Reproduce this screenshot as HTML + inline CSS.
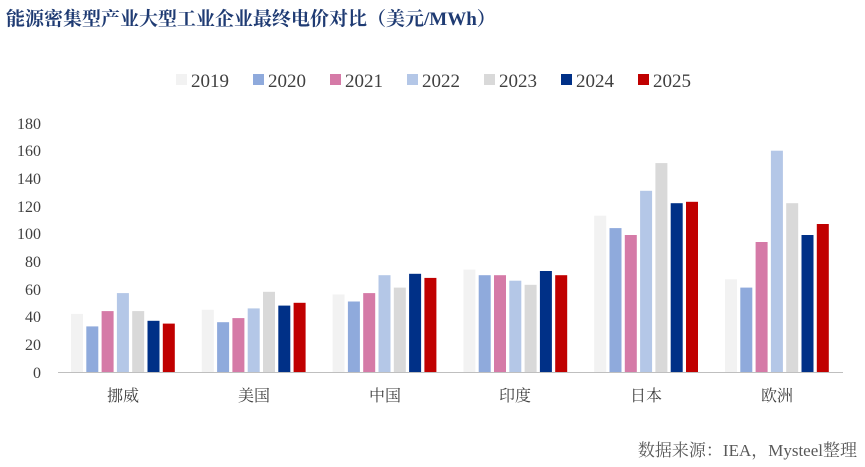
<!DOCTYPE html>
<html><head><meta charset="utf-8"><style>
html,body{margin:0;padding:0;background:#fff;}
svg{display:block;}
.a{fill:#f2f2f2}.b{fill:#8faadc}.c{fill:#d57aa7}.d{fill:#b4c7e7}.e{fill:#d9d9d9}.f{fill:#003087}.g{fill:#c00000}
</style></head><body>
<svg width="865" height="467" xmlns="http://www.w3.org/2000/svg">
<text x="6" y="25" font-family="Liberation Serif, Noto Serif CJK SC, serif" font-size="19" font-weight="bold" fill="#1f3b73">能源密集型产业大型工业企业最终电价对比（美元/MWh）</text>
<g font-family="Liberation Serif, serif" font-size="19" fill="#404040">
<rect x="176" y="74" width="11" height="11" fill="#f2f2f2"/><text x="191" y="87">2019</text>
<rect x="253" y="74" width="11" height="11" fill="#8faadc"/><text x="268" y="87">2020</text>
<rect x="330" y="74" width="11" height="11" fill="#d57aa7"/><text x="345" y="87">2021</text>
<rect x="407" y="74" width="11" height="11" fill="#b4c7e7"/><text x="422" y="87">2022</text>
<rect x="484" y="74" width="11" height="11" fill="#d9d9d9"/><text x="499" y="87">2023</text>
<rect x="561" y="74" width="11" height="11" fill="#003087"/><text x="576" y="87">2024</text>
<rect x="638" y="74" width="11" height="11" fill="#c00000"/><text x="653" y="87">2025</text>
</g>
<g font-family="Liberation Serif, serif" font-size="16" fill="#404040" text-anchor="end">
<text x="41" y="378">0</text><text x="41" y="350">20</text><text x="41" y="322">40</text><text x="41" y="295">60</text><text x="41" y="267">80</text><text x="41" y="239">100</text><text x="41" y="212">120</text><text x="41" y="184">140</text><text x="41" y="156">160</text><text x="41" y="129">180</text>
</g>
<g>
<rect class="a" x="71" y="313.9" width="12" height="58.1"/>
<rect class="b" x="86.3" y="326.4" width="12" height="45.6"/>
<rect class="c" x="101.6" y="311.1" width="12" height="60.9"/>
<rect class="d" x="116.9" y="293.1" width="12" height="78.9"/>
<rect class="e" x="132.2" y="311.1" width="12" height="60.9"/>
<rect class="f" x="147.5" y="320.8" width="12" height="51.2"/>
<rect class="g" x="162.8" y="323.6" width="12" height="48.4"/>

<rect class="a" x="201.8" y="309.8" width="12" height="62.2"/>
<rect class="b" x="217.1" y="322.2" width="12" height="49.8"/>
<rect class="c" x="232.4" y="318.1" width="12" height="53.9"/>
<rect class="d" x="247.7" y="308.4" width="12" height="63.6"/>
<rect class="e" x="263" y="291.8" width="12" height="80.2"/>
<rect class="f" x="278.3" y="305.6" width="12" height="66.4"/>
<rect class="g" x="293.6" y="302.8" width="12" height="69.2"/>

<rect class="a" x="332.6" y="294.5" width="12" height="77.5"/>
<rect class="b" x="347.9" y="301.5" width="12" height="70.5"/>
<rect class="c" x="363.2" y="293.1" width="12" height="78.9"/>
<rect class="d" x="378.5" y="275.2" width="12" height="96.8"/>
<rect class="e" x="393.8" y="287.6" width="12" height="84.4"/>
<rect class="f" x="409.1" y="273.8" width="12" height="98.2"/>
<rect class="g" x="424.4" y="277.9" width="12" height="94.1"/>

<rect class="a" x="463.4" y="269.6" width="12" height="102.4"/>
<rect class="b" x="478.7" y="275.2" width="12" height="96.8"/>
<rect class="c" x="494" y="275.2" width="12" height="96.8"/>
<rect class="d" x="509.3" y="280.7" width="12" height="91.3"/>
<rect class="e" x="524.6" y="284.8" width="12" height="87.2"/>
<rect class="f" x="539.9" y="271" width="12" height="101"/>
<rect class="g" x="555.2" y="275.2" width="12" height="96.8"/>

<rect class="a" x="594.2" y="215.7" width="12" height="156.3"/>
<rect class="b" x="609.5" y="228.1" width="12" height="143.9"/>
<rect class="c" x="624.8" y="235" width="12" height="137"/>
<rect class="d" x="640.1" y="190.8" width="12" height="181.2"/>
<rect class="e" x="655.4" y="163.1" width="12" height="208.9"/>
<rect class="f" x="670.7" y="203.2" width="12" height="168.8"/>
<rect class="g" x="686" y="201.8" width="12" height="170.2"/>

<rect class="a" x="725" y="279.3" width="12" height="92.7"/>
<rect class="b" x="740.3" y="287.6" width="12" height="84.4"/>
<rect class="c" x="755.6" y="242" width="12" height="130"/>
<rect class="d" x="770.9" y="150.7" width="12" height="221.3"/>
<rect class="e" x="786.2" y="203.2" width="12" height="168.8"/>
<rect class="f" x="801.5" y="235" width="12" height="137"/>
<rect class="g" x="816.8" y="224" width="12" height="148"/>
</g>
<line x1="58" y1="372.5" x2="843" y2="372.5" stroke="#bfbfbf" stroke-width="1"/>
<g font-family="Liberation Serif, Noto Serif CJK SC, serif" font-size="16" fill="#404040" text-anchor="middle">
<text x="123" y="401">挪威</text><text x="254" y="401">美国</text><text x="385" y="401">中国</text><text x="515" y="401">印度</text><text x="646" y="401">日本</text><text x="777" y="401">欧洲</text>
</g>
<text x="857" y="456" text-anchor="end" font-family="Liberation Serif, Noto Serif CJK SC, serif" font-size="17" fill="#595959">数据来源：IEA，Mysteel整理</text>
</svg>
</body></html>
